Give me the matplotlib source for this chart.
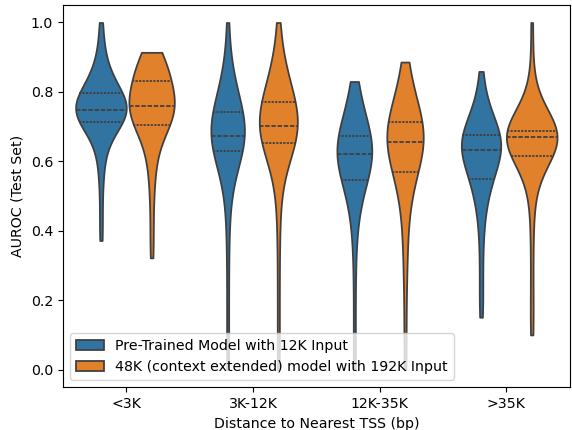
import matplotlib
matplotlib.use("Agg")
from matplotlib import pyplot as plt
import seaborn as sns
import pandas as pd


categories = ["<3K", "3K-12K", "12K-35K", ">35K"]
models = [
    "Pre-Trained Model with 12K Input",
    "48K (context extended) model with 192K Input",
]

# AUROC values (quartiles, ends and rough shape)
short_12k = [0.372, 0.45, 0.53, 0.58, 0.615, 0.64, 0.66, 0.675, 0.687, 0.697, 0.704, 0.710,
             0.7135, 0.718, 0.722, 0.726, 0.73, 0.734, 0.737, 0.740, 0.743, 0.745, 0.747, 0.748,
             0.750, 0.754, 0.758, 0.762, 0.766, 0.770, 0.774, 0.778, 0.783, 0.788, 0.792, 0.796,
             0.80, 0.806, 0.813, 0.821, 0.83, 0.84, 0.852, 0.866, 0.882, 0.905, 0.945, 1.0]
short_192k = [0.322, 0.40, 0.48, 0.54, 0.58, 0.61, 0.635, 0.655, 0.672, 0.686, 0.696, 0.703,
              0.707, 0.713, 0.719, 0.725, 0.731, 0.737, 0.742, 0.747, 0.751, 0.754, 0.757, 0.758,
              0.760, 0.765, 0.771, 0.777, 0.783, 0.789, 0.796, 0.803, 0.81, 0.817, 0.824, 0.831,
              0.838, 0.845, 0.852, 0.859, 0.866, 0.873, 0.88, 0.887, 0.894, 0.90, 0.907, 0.914]
mid_12k = [0.0, 0.10, 0.22, 0.33, 0.42, 0.48, 0.52, 0.555, 0.58, 0.598, 0.612, 0.624,
           0.630, 0.636, 0.641, 0.646, 0.651, 0.655, 0.659, 0.663, 0.666, 0.669, 0.672, 0.673,
           0.675, 0.679, 0.684, 0.689, 0.694, 0.70, 0.706, 0.712, 0.719, 0.726, 0.733, 0.740,
           0.745, 0.752, 0.76, 0.769, 0.778, 0.79, 0.803, 0.818, 0.835, 0.86, 0.91, 1.0]
mid_192k = [0.0, 0.12, 0.25, 0.37, 0.46, 0.52, 0.565, 0.595, 0.615, 0.631, 0.642, 0.650,
            0.654, 0.66, 0.665, 0.670, 0.675, 0.680, 0.684, 0.688, 0.692, 0.695, 0.698, 0.700,
            0.702, 0.706, 0.711, 0.716, 0.722, 0.728, 0.734, 0.741, 0.748, 0.755, 0.762, 0.768,
            0.776, 0.784, 0.793, 0.802, 0.812, 0.823, 0.835, 0.848, 0.862, 0.88, 0.925, 1.0]
far_12k = [0.0, 0.10, 0.22, 0.32, 0.39, 0.43, 0.46, 0.485, 0.505, 0.52, 0.533, 0.542,
           0.547, 0.556, 0.565, 0.573, 0.581, 0.588, 0.595, 0.601, 0.607, 0.612, 0.616, 0.619,
           0.621, 0.625, 0.629, 0.633, 0.638, 0.643, 0.648, 0.653, 0.658, 0.663, 0.668, 0.672,
           0.68, 0.688, 0.696, 0.705, 0.715, 0.725, 0.737, 0.75, 0.765, 0.785, 0.81, 0.83]
far_192k = [0.0, 0.12, 0.24, 0.31, 0.37, 0.42, 0.46, 0.49, 0.515, 0.535, 0.552, 0.565,
            0.571, 0.581, 0.591, 0.601, 0.61, 0.619, 0.627, 0.635, 0.642, 0.648, 0.652, 0.655,
            0.657, 0.661, 0.666, 0.671, 0.676, 0.681, 0.686, 0.691, 0.696, 0.701, 0.706, 0.710,
            0.718, 0.726, 0.735, 0.745, 0.755, 0.766, 0.778, 0.792, 0.808, 0.828, 0.855, 0.886]
distal_12k = [0.151, 0.2, 0.27, 0.34, 0.4, 0.44, 0.47, 0.495, 0.513, 0.527, 0.538, 0.547,
              0.551, 0.562, 0.573, 0.584, 0.594, 0.603, 0.611, 0.618, 0.623, 0.627, 0.630, 0.632,
              0.634, 0.638, 0.642, 0.646, 0.65, 0.654, 0.658, 0.662, 0.665, 0.668, 0.671, 0.674,
              0.678, 0.684, 0.69, 0.697, 0.705, 0.714, 0.725, 0.738, 0.753, 0.772, 0.805, 0.859]
distal_192k = [0.10, 0.18, 0.28, 0.38, 0.46, 0.51, 0.545, 0.57, 0.587, 0.6, 0.608, 0.613,
               0.617, 0.625, 0.633, 0.640, 0.646, 0.651, 0.655, 0.659, 0.662, 0.665, 0.667, 0.668,
               0.670, 0.672, 0.674, 0.676, 0.677, 0.679, 0.680, 0.682, 0.683, 0.684, 0.685, 0.686,
               0.690, 0.695, 0.701, 0.708, 0.716, 0.725, 0.736, 0.75, 0.768, 0.80, 0.87, 1.0]

groups = [
    (categories[0], short_12k, short_192k),
    (categories[1], mid_12k, mid_192k),
    (categories[2], far_12k, far_192k),
    (categories[3], distal_12k, distal_192k),
]

rows = []
for cat, vals_a, vals_b in groups:
    rows += [(cat, models[0], v) for v in vals_a]
    rows += [(cat, models[1], v) for v in vals_b]
df = pd.DataFrame(rows, columns=["dist", "model", "auroc"])

fig, ax = plt.subplots(figsize=(5.608, 4.216), dpi=102)
fig.subplots_adjust(left=0.11, right=0.996, top=0.988, bottom=0.1)

sns.violinplot(
    data=df, x="dist", y="auroc", hue="model",
    order=categories, hue_order=models,
    inner="quartile", cut=0, ax=ax,
)

handles, labels = ax.get_legend_handles_labels()
ax.legend(handles, labels, loc="lower left")

ax.set_xlabel("Distance to Nearest TSS (bp)")
ax.set_ylabel("AUROC (Test Set)")

fig.savefig("out.png", dpi=102)
